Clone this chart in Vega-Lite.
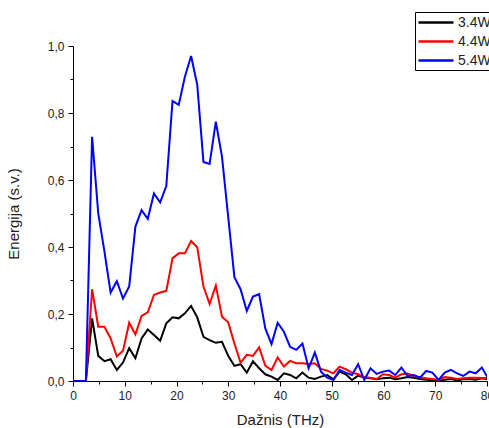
{
  "$schema": "https://vega.github.io/schema/vega-lite/v6.json",
  "width": 414,
  "height": 335,
  "autosize": {"type": "none"},
  "padding": {"top": 46, "left": 73, "right": 2, "bottom": 47},
  "background": "white",
  "config": {
    "view": {"stroke": null},
    "font": "Liberation Sans",
    "axis": {"domainColor": "#000000", "tickColor": "#000000", "labelColor": "#222222", "titleColor": "#222222", "grid": false, "labelFont": "Liberation Sans", "titleFont": "Liberation Sans", "labelFontSize": 12, "titleFontSize": 15, "titleFontWeight": "normal", "domainWidth": 1, "tickWidth": 1}
  },
  "data": {"values": [
    {"f":0,"s":"3.4W","v":0},{"f":1.30,"s":"3.4W","v":0},{"f":2.49,"s":"3.4W","v":0},{"f":3.69,"s":"3.4W","v":0.187},{"f":4.88,"s":"3.4W","v":0.075},{"f":6.08,"s":"3.4W","v":0.059},{"f":7.27,"s":"3.4W","v":0.065},{"f":8.47,"s":"3.4W","v":0.033},{"f":9.66,"s":"3.4W","v":0.055},{"f":10.86,"s":"3.4W","v":0.098},
    {"f":12.06,"s":"3.4W","v":0.068},{"f":13.25,"s":"3.4W","v":0.127},{"f":14.45,"s":"3.4W","v":0.154},{"f":15.64,"s":"3.4W","v":0.137},{"f":16.84,"s":"3.4W","v":0.12},{"f":18.03,"s":"3.4W","v":0.172},{"f":19.23,"s":"3.4W","v":0.19},{"f":20.43,"s":"3.4W","v":0.187},{"f":21.62,"s":"3.4W","v":0.202},{"f":22.82,"s":"3.4W","v":0.224},
    {"f":24.01,"s":"3.4W","v":0.19},{"f":25.21,"s":"3.4W","v":0.132},{"f":26.40,"s":"3.4W","v":0.122},{"f":27.60,"s":"3.4W","v":0.114},{"f":28.79,"s":"3.4W","v":0.117},{"f":29.99,"s":"3.4W","v":0.075},{"f":31.19,"s":"3.4W","v":0.045},{"f":32.38,"s":"3.4W","v":0.05},{"f":33.58,"s":"3.4W","v":0.025},{"f":34.77,"s":"3.4W","v":0.059},
    {"f":35.97,"s":"3.4W","v":0.038},{"f":37.16,"s":"3.4W","v":0.02},{"f":38.36,"s":"3.4W","v":0.013},{"f":39.55,"s":"3.4W","v":0.003},{"f":40.75,"s":"3.4W","v":0.023},{"f":41.95,"s":"3.4W","v":0.018},{"f":43.14,"s":"3.4W","v":0.008},{"f":44.34,"s":"3.4W","v":0.025},{"f":45.53,"s":"3.4W","v":0.01},{"f":46.73,"s":"3.4W","v":0.006},
    {"f":47.92,"s":"3.4W","v":0.013},{"f":49.12,"s":"3.4W","v":0.018},{"f":50.32,"s":"3.4W","v":0.005},{"f":51.51,"s":"3.4W","v":0.028},{"f":52.71,"s":"3.4W","v":0.02},{"f":53.90,"s":"3.4W","v":0.003},{"f":55.10,"s":"3.4W","v":0.016},{"f":56.29,"s":"3.4W","v":0.01},{"f":57.49,"s":"3.4W","v":0.008},{"f":58.68,"s":"3.4W","v":0.005},
    {"f":59.88,"s":"3.4W","v":0.008},{"f":61.08,"s":"3.4W","v":0.01},{"f":62.27,"s":"3.4W","v":0.005},{"f":63.47,"s":"3.4W","v":0.008},{"f":64.66,"s":"3.4W","v":0.012},{"f":65.86,"s":"3.4W","v":0.01},{"f":67.05,"s":"3.4W","v":0.006},{"f":68.25,"s":"3.4W","v":0.004},{"f":69.44,"s":"3.4W","v":0.002},{"f":70.64,"s":"3.4W","v":0},
    {"f":71.84,"s":"3.4W","v":0.004},{"f":73.03,"s":"3.4W","v":0.006},{"f":74.23,"s":"3.4W","v":0.002},{"f":75.42,"s":"3.4W","v":0.005},{"f":76.62,"s":"3.4W","v":0.006},{"f":77.81,"s":"3.4W","v":0.004},{"f":79.01,"s":"3.4W","v":0.008},{"f":80.20,"s":"3.4W","v":0.005},

    {"f":0,"s":"4.4W","v":0},{"f":1.30,"s":"4.4W","v":0},{"f":2.49,"s":"4.4W","v":0},{"f":3.69,"s":"4.4W","v":0.274},{"f":4.88,"s":"4.4W","v":0.162},{"f":6.08,"s":"4.4W","v":0.162},{"f":7.27,"s":"4.4W","v":0.127},{"f":8.47,"s":"4.4W","v":0.073},{"f":9.66,"s":"4.4W","v":0.09},{"f":10.86,"s":"4.4W","v":0.174},
    {"f":12.06,"s":"4.4W","v":0.139},{"f":13.25,"s":"4.4W","v":0.194},{"f":14.45,"s":"4.4W","v":0.205},{"f":15.64,"s":"4.4W","v":0.257},{"f":16.84,"s":"4.4W","v":0.264},{"f":18.03,"s":"4.4W","v":0.269},{"f":19.23,"s":"4.4W","v":0.366},{"f":20.43,"s":"4.4W","v":0.381},{"f":21.62,"s":"4.4W","v":0.381},{"f":22.82,"s":"4.4W","v":0.418},
    {"f":24.01,"s":"4.4W","v":0.399},{"f":25.21,"s":"4.4W","v":0.282},{"f":26.40,"s":"4.4W","v":0.23},{"f":27.60,"s":"4.4W","v":0.285},{"f":28.79,"s":"4.4W","v":0.192},{"f":29.99,"s":"4.4W","v":0.175},{"f":31.19,"s":"4.4W","v":0.112},{"f":32.38,"s":"4.4W","v":0.055},{"f":33.58,"s":"4.4W","v":0.078},{"f":34.77,"s":"4.4W","v":0.075},
    {"f":35.97,"s":"4.4W","v":0.1},{"f":37.16,"s":"4.4W","v":0.046},{"f":38.36,"s":"4.4W","v":0.033},{"f":39.55,"s":"4.4W","v":0.07},{"f":40.75,"s":"4.4W","v":0.043},{"f":41.95,"s":"4.4W","v":0.06},{"f":43.14,"s":"4.4W","v":0.053},{"f":44.34,"s":"4.4W","v":0.053},{"f":45.53,"s":"4.4W","v":0.051},{"f":46.73,"s":"4.4W","v":0.053},
    {"f":47.92,"s":"4.4W","v":0.036},{"f":49.12,"s":"4.4W","v":0.031},{"f":50.32,"s":"4.4W","v":0.023},{"f":51.51,"s":"4.4W","v":0.043},{"f":52.71,"s":"4.4W","v":0.035},{"f":53.90,"s":"4.4W","v":0.025},{"f":55.10,"s":"4.4W","v":0.02},{"f":56.29,"s":"4.4W","v":0.011},{"f":57.49,"s":"4.4W","v":0.01},{"f":58.68,"s":"4.4W","v":0.006},
    {"f":59.88,"s":"4.4W","v":0.02},{"f":61.08,"s":"4.4W","v":0.018},{"f":62.27,"s":"4.4W","v":0.01},{"f":63.47,"s":"4.4W","v":0.02},{"f":64.66,"s":"4.4W","v":0.022},{"f":65.86,"s":"4.4W","v":0.015},{"f":67.05,"s":"4.4W","v":0.011},{"f":68.25,"s":"4.4W","v":0.008},{"f":69.44,"s":"4.4W","v":0.006},{"f":70.64,"s":"4.4W","v":0.003},
    {"f":71.84,"s":"4.4W","v":0.012},{"f":73.03,"s":"4.4W","v":0.01},{"f":74.23,"s":"4.4W","v":0.006},{"f":75.42,"s":"4.4W","v":0.008},{"f":76.62,"s":"4.4W","v":0.01},{"f":77.81,"s":"4.4W","v":0.01},{"f":79.01,"s":"4.4W","v":0.009},{"f":80.20,"s":"4.4W","v":0.008},

    {"f":0,"s":"5.4W","v":0},{"f":1.30,"s":"5.4W","v":0},{"f":2.49,"s":"5.4W","v":0},{"f":3.69,"s":"5.4W","v":0.729},{"f":4.88,"s":"5.4W","v":0.50},{"f":6.08,"s":"5.4W","v":0.386},{"f":7.27,"s":"5.4W","v":0.264},{"f":8.47,"s":"5.4W","v":0.298},{"f":9.66,"s":"5.4W","v":0.246},{"f":10.86,"s":"5.4W","v":0.282},
    {"f":12.06,"s":"5.4W","v":0.461},{"f":13.25,"s":"5.4W","v":0.51},{"f":14.45,"s":"5.4W","v":0.484},{"f":15.64,"s":"5.4W","v":0.56},{"f":16.84,"s":"5.4W","v":0.533},{"f":18.03,"s":"5.4W","v":0.582},{"f":19.23,"s":"5.4W","v":0.836},{"f":20.43,"s":"5.4W","v":0.824},{"f":21.62,"s":"5.4W","v":0.908},{"f":22.82,"s":"5.4W","v":0.970},
    {"f":24.01,"s":"5.4W","v":0.884},{"f":25.21,"s":"5.4W","v":0.654},{"f":26.40,"s":"5.4W","v":0.648},{"f":27.60,"s":"5.4W","v":0.774},{"f":28.79,"s":"5.4W","v":0.67},{"f":29.99,"s":"5.4W","v":0.49},{"f":31.19,"s":"5.4W","v":0.31},{"f":32.38,"s":"5.4W","v":0.274},{"f":33.58,"s":"5.4W","v":0.209},{"f":34.77,"s":"5.4W","v":0.252},
    {"f":35.97,"s":"5.4W","v":0.259},{"f":37.16,"s":"5.4W","v":0.157},{"f":38.36,"s":"5.4W","v":0.110},{"f":39.55,"s":"5.4W","v":0.174},{"f":40.75,"s":"5.4W","v":0.147},{"f":41.95,"s":"5.4W","v":0.102},{"f":43.14,"s":"5.4W","v":0.093},{"f":44.34,"s":"5.4W","v":0.112},{"f":45.53,"s":"5.4W","v":0.038},{"f":46.73,"s":"5.4W","v":0.085},
    {"f":47.92,"s":"5.4W","v":0.028},{"f":49.12,"s":"5.4W","v":0.01},{"f":50.32,"s":"5.4W","v":0.003},{"f":51.51,"s":"5.4W","v":0.033},{"f":52.71,"s":"5.4W","v":0.025},{"f":53.90,"s":"5.4W","v":0.018},{"f":55.10,"s":"5.4W","v":0.05},{"f":56.29,"s":"5.4W","v":0.003},{"f":57.49,"s":"5.4W","v":0.038},{"f":58.68,"s":"5.4W","v":0.021},
    {"f":59.88,"s":"5.4W","v":0.028},{"f":61.08,"s":"5.4W","v":0.031},{"f":62.27,"s":"5.4W","v":0.018},{"f":63.47,"s":"5.4W","v":0.04},{"f":64.66,"s":"5.4W","v":0.015},{"f":65.86,"s":"5.4W","v":0.018},{"f":67.05,"s":"5.4W","v":0.01},{"f":68.25,"s":"5.4W","v":0.03},{"f":69.44,"s":"5.4W","v":0.025},{"f":70.64,"s":"5.4W","v":0.003},
    {"f":71.84,"s":"5.4W","v":0.025},{"f":73.03,"s":"5.4W","v":0.033},{"f":74.23,"s":"5.4W","v":0.023},{"f":75.42,"s":"5.4W","v":0.015},{"f":76.62,"s":"5.4W","v":0.028},{"f":77.81,"s":"5.4W","v":0.023},{"f":79.01,"s":"5.4W","v":0.04},{"f":80.20,"s":"5.4W","v":0.008}
  ]},
  "mark": {"type": "line", "strokeWidth": 2, "clip": true},
  "encoding": {
    "x": {
      "field": "f", "type": "quantitative",
      "scale": {"domain": [0, 80], "nice": false, "zero": false},
      "axis": {
        "title": "Dažnis (THz)",
        "values": [0,5,10,15,20,25,30,35,40,45,50,55,60,65,70,75,80],
        "labelExpr": "datum.value % 10 === 0 ? datum.label : ''",
        "tickSize": {"condition": {"test": "datum.value % 10 === 0", "value": 5}, "value": 3},
        "labelPadding": 4,
        "titlePadding": 11,
        "labelFlush": false
      }
    },
    "y": {
      "field": "v", "type": "quantitative",
      "scale": {"domain": [0, 1], "nice": false},
      "axis": {
        "title": "Energija (s.v.)",
        "values": [0,0.1,0.2,0.3,0.4,0.5,0.6,0.7,0.8,0.9,1],
        "labelExpr": "round(datum.value*10) % 2 === 0 ? replace(format(datum.value, '.1f'), '.', ',') : ''",
        "tickSize": {"condition": {"test": "round(datum.value*10) % 2 === 0", "value": 5}, "value": 3},
        "labelPadding": 4,
        "titlePadding": 26,
        "labelFlush": false
      }
    },
    "color": {
      "field": "s", "type": "nominal",
      "scale": {"domain": ["3.4W", "4.4W", "5.4W"], "range": ["#000000", "#ff0000", "#0000ff"]},
      "legend": {
        "title": null,
        "orient": "none",
        "legendX": 342,
        "legendY": -34,
        "strokeColor": "#000000",
        "fillColor": "#ffffff",
        "padding": 2,
        "symbolType": "M-1,0L4,0",
        "symbolSize": 196,
        "symbolStrokeWidth": 2.5,
        "labelFontSize": 14,
        "labelFont": "Liberation Sans",
        "labelColor": "#222222",
        "labelOffset": 24,
        "rowPadding": 3
      }
    }
  }
}
